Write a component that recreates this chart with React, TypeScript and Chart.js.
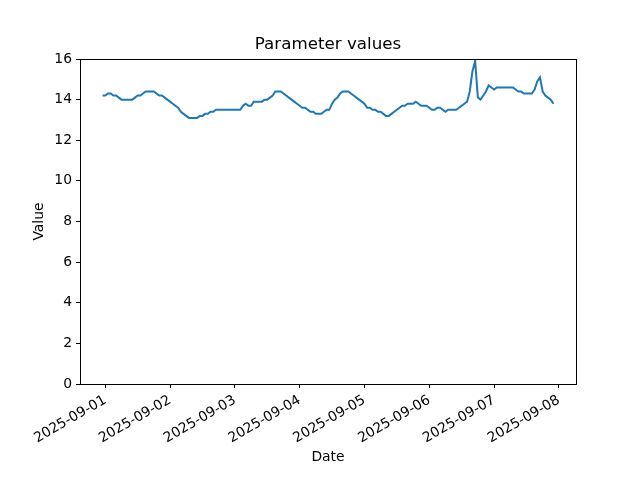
import React, { useEffect, useRef } from "react";
import { Chart, registerables } from "chart.js";

Chart.register(...registerables);

// Hourly readings; first reading at 2025-08-31 23:00 (hour -1 relative to 2025-09-01 00:00)
const startHour = -1;
const values: number[] = [
  14.2, 14.2, 14.3, 14.3, 14.2, 14.2, 14.1, 14.0, 14.0, 14.0, 14.0, 14.0,
  14.1, 14.2, 14.2, 14.3, 14.4, 14.4, 14.4, 14.4, 14.3, 14.2, 14.2, 14.1,
  14.0, 13.9, 13.8, 13.7, 13.6, 13.4, 13.3, 13.2, 13.1, 13.1, 13.1, 13.1,
  13.2, 13.2, 13.3, 13.3, 13.4, 13.4, 13.5, 13.5, 13.5, 13.5, 13.5, 13.5,
  13.5, 13.5, 13.5, 13.5, 13.7, 13.8, 13.7, 13.7, 13.9, 13.9, 13.9, 13.9,
  14.0, 14.0, 14.1, 14.2, 14.4, 14.4, 14.4, 14.3, 14.2, 14.1, 14.0, 13.9,
  13.8, 13.7, 13.6, 13.6, 13.5, 13.4, 13.4, 13.3, 13.3, 13.3, 13.4, 13.5,
  13.5, 13.8, 14.0, 14.1, 14.3, 14.4, 14.4, 14.4, 14.3, 14.2, 14.1, 14.0,
  13.9, 13.8, 13.6, 13.6, 13.5, 13.5, 13.4, 13.4, 13.3, 13.2, 13.2, 13.3,
  13.4, 13.5, 13.6, 13.7, 13.7, 13.8, 13.8, 13.8, 13.9, 13.8, 13.7, 13.7,
  13.7, 13.6, 13.5, 13.5, 13.6, 13.6, 13.5, 13.4, 13.5, 13.5, 13.5, 13.5,
  13.6, 13.7, 13.8, 13.9, 14.4, 15.4, 15.9, 14.1, 14.0, 14.2, 14.4, 14.7,
  14.6, 14.5, 14.6, 14.6, 14.6, 14.6, 14.6, 14.6, 14.6, 14.5, 14.4, 14.4,
  14.3, 14.3, 14.3, 14.3, 14.5, 14.9, 15.1, 14.4, 14.2, 14.1, 14.0, 13.8,
];

const tickDays: string[] = [
  "2025-09-01", "2025-09-02", "2025-09-03", "2025-09-04",
  "2025-09-05", "2025-09-06", "2025-09-07", "2025-09-08",
];
const yTicks: number[] = [0, 2, 4, 6, 8, 10, 12, 14, 16];

const titleText = "Parameter values";
const xTitle = "Date";
const yTitle = "Value";

const FONT = "'DejaVu Sans', sans-serif";

export default function App() {
  const ref = useRef<HTMLCanvasElement | null>(null);

  useEffect(() => {
    document.body.style.margin = "0";
    const canvas = ref.current;
    if (!canvas) return;
    const points = values.map((v, i) => ({ x: startHour + i, y: v }));
    const firstX = startHour;
    const lastX = startHour + values.length - 1;
    const span = lastX - firstX;
    const xMin = firstX - 0.05 * span;
    const xMax = lastX + 0.05 * span;

    const framePlugin = {
      id: "frame",
      afterDraw(chart: any) {
        const { ctx, chartArea } = chart;
        ctx.save();
        ctx.strokeStyle = "#000";
        ctx.lineWidth = 1;
        ctx.strokeRect(
          Math.round(chartArea.left) + 0.5,
          Math.round(chartArea.top) + 0.5,
          Math.round(chartArea.right - chartArea.left),
          Math.round(chartArea.bottom - chartArea.top)
        );
        // title centred over the plot area
        ctx.fillStyle = "#000";
        ctx.font = `16.7px ${FONT}`;
        ctx.textAlign = "center";
        ctx.textBaseline = "alphabetic";
        ctx.fillText(titleText, (chartArea.left + chartArea.right) / 2, chartArea.top - 10.5);
        ctx.restore();
      },
    };

    const chart = new Chart(canvas, {
      type: "line",
      data: {
        datasets: [
          {
            data: points,
            borderColor: "#1f77b4",
            borderWidth: 2,
            pointRadius: 0,
            fill: false,
            tension: 0,
          },
        ],
      },
      options: {
        animation: false,
        responsive: false,
        devicePixelRatio: 1,
        layout: { padding: { left: 0, right: 64, top: 59, bottom: 0 } },
        plugins: {
          legend: { display: false },
          tooltip: { enabled: false },
          title: { display: false },
        },
        scales: {
          x: {
            type: "linear",
            min: xMin,
            max: xMax,
            afterBuildTicks(scale: any) {
              scale.ticks = tickDays.map((_, i) => ({ value: i * 24 }));
            },
            afterFit(scale: any) {
              scale.height = 96;
            },
            ticks: {
              autoSkip: false,
              minRotation: 30,
              maxRotation: 30,
              padding: 4,
              color: "#000",
              font: { family: FONT, size: 13.9 },
              callback: (v: any) => {
                const idx = Math.round(Number(v) / 24);
                return tickDays[idx] ?? "";
              },
            },
            grid: {
              drawOnChartArea: false,
              drawTicks: true,
              tickLength: 4,
              color: "#000",
            },
            border: { display: true, color: "#000" },
            title: {
              display: true,
              text: xTitle,
              color: "#000",
              font: { family: FONT, size: 13.9 },
              padding: { top: 0, bottom: 14 },
            },
          },
          y: {
            type: "linear",
            min: 0,
            max: 16,
            afterBuildTicks(scale: any) {
              scale.ticks = yTicks.map((v) => ({ value: v }));
            },
            afterFit(scale: any) {
              scale.width = 80;
            },
            ticks: {
              padding: 4,
              color: "#000",
              font: { family: FONT, size: 13.9 },
            },
            grid: {
              drawOnChartArea: false,
              drawTicks: true,
              tickLength: 4,
              color: "#000",
            },
            border: { display: true, color: "#000" },
            title: {
              display: true,
              text: yTitle,
              color: "#000",
              font: { family: FONT, size: 13.9 },
              padding: { top: 31, bottom: 0 },
            },
          },
        },
      },
      plugins: [framePlugin],
    });
    return () => chart.destroy();
  }, []);

  return (
    <div style={{ width: 640, height: 480 }}>
      <canvas ref={ref} width={640} height={480} style={{ display: "block" }} />
    </div>
  );
}
